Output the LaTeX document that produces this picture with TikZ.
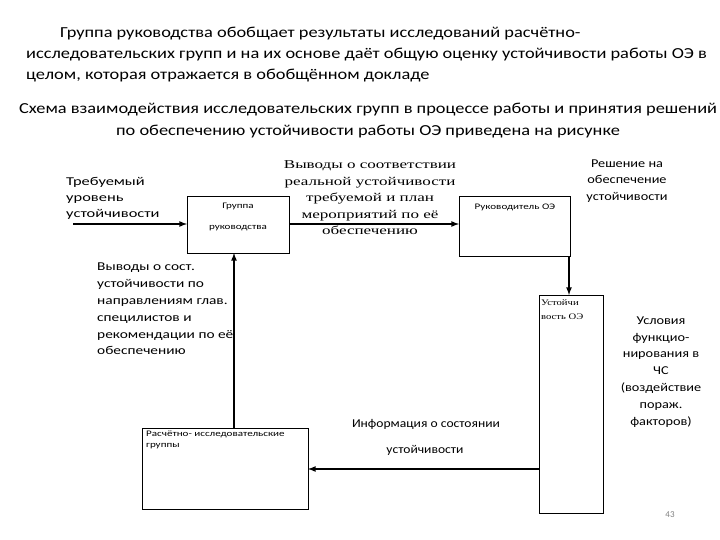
\documentclass[tikz,border=0pt]{standalone}
\usepackage{fontspec}
\setmainfont{Carlito}
\newfontfamily\serifru[FakeStretch=1.42]{Liberation Serif}
\newfontfamily\serifsm[FakeStretch=1.25]{Liberation Serif}
\newfontfamily\wpara[FakeStretch=1.2]{Carlito}
\newfontfamily\wsm[FakeStretch=1.3]{Carlito}
\newfontfamily\wfa[FakeStretch=1.37]{Carlito}
\newfontfamily\wfb[FakeStretch=1.28]{Carlito}
\newfontfamily\wfc[FakeStretch=1.19]{Carlito}
\newfontfamily\wfd[FakeStretch=1.13]{Carlito}
\begin{document}
\begin{tikzpicture}[x=1pt,y=-1pt,
  box/.style={draw,line width=0.8pt,inner sep=0},
  arr/.style={line width=1.6pt,-latex},
  lbl/.style={align=left,inner sep=0},
  sm/.style={font=\wsm\fontsize{8.5}{11}\selectfont,inner sep=0},
  para/.style={font=\wpara\fontsize{15.3}{21}\selectfont,inner sep=0,anchor=west}]
\useasboundingbox (0,0) rectangle (720,540);
\node[para] (p1) at (60,34) {Группа руководства обобщает результаты исследований расчётно-};
\node[para] (p2) at (26,55) {исследовательских групп и на их основе даёт общую оценку устойчивости работы ОЭ в};
\node[para] (p3) at (26,76) {целом, которая отражается в обобщённом докладе};
\node[para,anchor=center] (p4) at (368,110) {Схема взаимодействия исследовательских групп в процессе работы и принятия решений};
\node[para,anchor=center] (p5) at (368,132) {по обеспечению устойчивости работы ОЭ приведена на рисунке};
% boxes
\path[box] (187,196) rectangle (289,253);
\node[sm] (g1) at (238,206) {Группа};
\node[sm] (g2) at (238,228) {руководства};
\coordinate (gW) at (187,224); \coordinate (gE) at (289,224); \coordinate (gS) at (234,253);
\path[box] (459,196) rectangle (570,256);
\node[sm] (r1) at (515,207) {Руководитель ОЭ};
\coordinate (rW) at (459,224); \coordinate (rS) at (569,256);
\path[box] (539,295) rectangle (603,513);
\node[sm,font=\serifsm\fontsize{8.5}{14}\selectfont,align=left,anchor=north west] (u1) at (541,299) {Устойчи\\вость ОЭ};
\coordinate (uN) at (569,295); \coordinate (uW) at (539,469);
\path[box] (142,428) rectangle (308,509);
\node[sm,align=left,anchor=north west] (c1) at (146,431) {Расчётно- исследовательские\\группы};
\coordinate (cE) at (308,469); \coordinate (cN) at (234,428);
% arrows
\coordinate (in) at (73,224);
\draw[arr] (in) -- (gW);
\draw[arr] (gE) -- (rW);
\draw[arr] (rS) -- (uN);
\draw[arr] (uW) -- (cE);
\draw[arr] (cN) -- (gS);
% labels
\node[lbl,anchor=north west,font=\wfa\fontsize{12}{16}\selectfont] (t1) at (66,177) {Требуемый\\уровень\\устойчивости};
\node[lbl,align=center,font=\serifru\fontsize{12}{16.5}\selectfont] (t2) at (370,198) {Выводы о соответствии\\реальной устойчивости\\требуемой и план\\мероприятий по её\\обеспечению};
\node[lbl,align=center,font=\wfc\fontsize{12}{16.5}\selectfont] (t3) at (627,181) {Решение на\\обеспечение\\устойчивости};
\node[lbl,anchor=north west,font=\wfb\fontsize{12}{16.8}\selectfont] (t4) at (97,263) {Выводы о сост.\\устойчивости по\\направлениям глав.\\специлистов и\\рекомендации по её\\обеспечению};
\node[lbl,align=center,font=\wfc\fontsize{12}{16.9}\selectfont] (t5) at (661,372) {Условия\\функцио-\\нирования в\\ЧС\\(воздействие\\пораж.\\факторов)};
\node[lbl,font=\wfd\fontsize{12}{16}\selectfont] (t6) at (426,424) {Информация о состоянии};
\node[lbl,font=\wfd\fontsize{12}{16}\selectfont] (t7) at (425,450) {устойчивости};
\node[font=\fontsize{9}{11}\selectfont,text=gray,inner sep=0] (pg) at (670,515) {43};
\end{tikzpicture}
\end{document}
